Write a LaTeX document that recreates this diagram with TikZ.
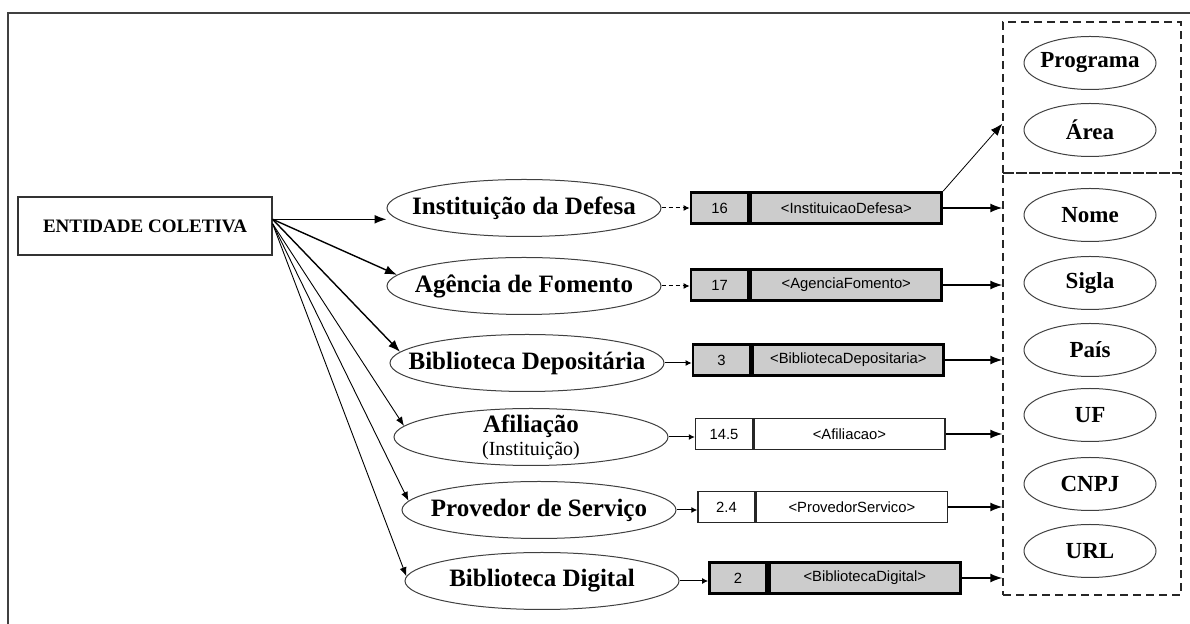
\documentclass[tikz,border=0pt]{standalone}
\usepackage{fontspec}
\setmainfont{Liberation Serif}
\newfontfamily\cellfont{Liberation Sans}
\usetikzlibrary{arrows.meta, shapes.geometric}

\newcommand{\etext}[1]{\makebox[0pt]{#1}}

\tikzstyle{fMain} = [rectangle, minimum width=127pt, minimum height=29pt, inner sep=0pt, draw=black!80, line width=0.6pt, font=\fontsize{9.5}{11}\selectfont\bfseries]
\tikzstyle{fEntity} = [ellipse, minimum width=137pt, minimum height=28.5pt, inner sep=0pt, draw=black!75, line width=0.5pt, font=\fontsize{12.5}{15}\selectfont\bfseries]
\tikzstyle{fAttr} = [ellipse, minimum width=66pt, minimum height=26.5pt, inner sep=0pt, draw=black!75, line width=0.5pt, font=\fontsize{11.5}{13}\selectfont\bfseries]
\tikzstyle{fNum} = [rectangle, minimum width=28.5pt, minimum height=15.5pt, inner sep=0pt, font=\cellfont\fontsize{7.4}{8}\selectfont]
\tikzstyle{fTag} = [fNum, minimum width=95.5pt]
\tikzstyle{fGray} = [fill=gray!40, draw=black, line width=1.4pt]
\tikzstyle{fWhite} = [fill=white, draw=black!85, line width=0.7pt]
\tikzstyle{fGroup} = [rectangle, draw=black!85, line width=0.7pt, dash pattern=on 4pt off 2.5pt, minimum width=89pt, inner sep=0pt]
\tikzstyle{fArrow} = [line width=0.7pt, -{Latex[length=6pt,width=4.5pt]}]
\tikzstyle{fThinArrow} = [line width=0.45pt, -{Latex[length=4.5pt,width=3.5pt]}]
\tikzstyle{fLink} = [line width=0.5pt, -{Latex[length=3pt,width=3pt]}]

\begin{document}
\begin{tikzpicture}[x=0.5pt, y=-0.5pt]
    \useasboundingbox (0,0) rectangle (1190,624);
    \draw [line width=1pt, black!75] (8,624) -- (8,13) -- (1190,13);

    \node (ent) [fMain] at (145,226) {ENTIDADE COLETIVA};

    \node (inst) [fEntity] at (524,208) {\etext{Instituição da Defesa}};
    \node (agen) [fEntity] at (524,286) {\etext{Agência de Fomento}};
    \node (bdep) [fEntity] at (527,363) {\etext{Biblioteca Depositária}};
    \node (afil) [fEntity, align=center, inner ysep=-2.5pt] at (531,437) {\etext{Afiliação}\\[-3.5pt]\etext{\fontsize{10}{12}\selectfont\mdseries (Instituição)}};
    \node (prov) [fEntity] at (539,510) {\etext{Provedor de Serviço}};
    \node (bdig) [fEntity] at (542,581) {\etext{Biblioteca Digital}};

    \node (n1) [fNum, fGray] at (719.5,208) {16};
    \node (t1) [fTag, fGray, anchor=west] at (n1.east) {<InstituicaoDefesa>};
    \node (n2) [fNum, fGray] at (719.5,285) {17};
    \node (t2) [fTag, fGray, anchor=west] at (n2.east) {<AgenciaFomento>};
    \node (n3) [fNum, fGray] at (721.5,360) {3};
    \node (t3) [fTag, fGray, anchor=west] at (n3.east) {<BibliotecaDepositaria>};
    \node (n4) [fNum, fWhite] at (724,434) {14.5};
    \node (t4) [fTag, fWhite, anchor=west] at (n4.east) {<Afiliacao>};
    \node (n5) [fNum, fWhite] at (726.5,507) {2.4};
    \node (t5) [fTag, fWhite, anchor=west] at (n5.east) {<ProvedorServico>};
    \node (n6) [fNum, fGray] at (738,578) {2};
    \node (t6) [fTag, fGray, anchor=west] at (n6.east) {<BibliotecaDigital>};

    \node (grpOrg) [fGroup, minimum height=75.5pt] at (1092,97.5) {};
    \node (grpAttr) [fGroup, minimum height=211pt] at (1092,384) {};

    \node (prog) [fAttr] at (1090,63) {\etext{Programa}};
    \node (area) [fAttr] at (1090,130) {\etext{Área}};
    \node (nome) [fAttr] at (1090,215) {\etext{Nome}};
    \node (sigla) [fAttr] at (1090,283) {\etext{Sigla}};
    \node (pais) [fAttr] at (1090,350) {\etext{País}};
    \node (uf) [fAttr] at (1090,415) {\etext{UF}};
    \node (cnpj) [fAttr] at (1090,484) {\etext{CNPJ}};
    \node (url) [fAttr] at (1090,551) {\etext{URL}};

    \draw [fArrow] (ent.3) -- (ent.3 -| inst.west);
    \draw [fArrow] (ent.3) -- (agen.175);
    \draw [fArrow] (ent.3) -- (bdep.175);
    \draw [fThinArrow] (ent.1) -- (afil.175);
    \draw [fThinArrow] (ent.1) -- (prov.176);
    \draw [fThinArrow] (ent.1) -- (bdig.178);

    \draw [fLink, dash pattern=on 2pt off 1.5pt] (inst.east) -- (inst.east -| n1.west);
    \draw [fLink, dash pattern=on 2pt off 1.5pt] (agen.east) -- (agen.east -| n2.west);
    \draw [fLink] (bdep.east) -- (bdep.east -| n3.west);
    \draw [fLink] (afil.east) -- (afil.east -| n4.west);
    \draw [fLink] (prov.east) -- (prov.east -| n5.west);
    \draw [fLink] (bdig.east) -- (bdig.east -| n6.west);

    \draw [fArrow, line width=0.4pt] (t1.north east) -- ([yshift=25pt]grpOrg.south west);
    \draw [fArrow] (t1.east) -- (t1.east -| grpAttr.west);
    \draw [fArrow] (t2.east) -- (t2.east -| grpAttr.west);
    \draw [fArrow] (t3.east) -- (t3.east -| grpAttr.west);
    \draw [fArrow] (t4.east) -- (t4.east -| grpAttr.west);
    \draw [fArrow] (t5.east) -- (t5.east -| grpAttr.west);
    \draw [fArrow] (t6.east) -- (t6.east -| grpAttr.west);
\end{tikzpicture}
\end{document}
